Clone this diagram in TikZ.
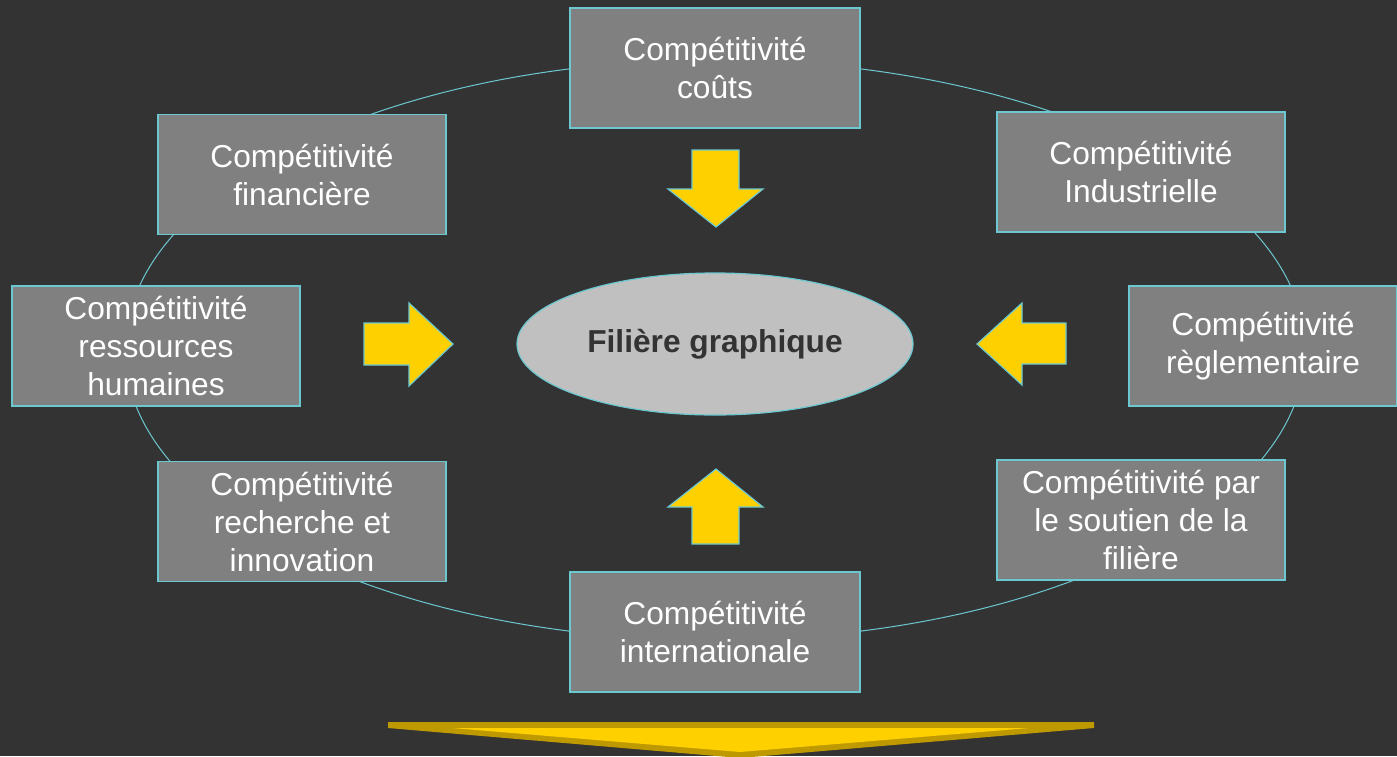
\documentclass[tikz,border=0pt]{standalone}
\usepackage{fontspec}
\setmainfont{Liberation Sans}
\usetikzlibrary{shapes.geometric}
\definecolor{bgdark}{RGB}{51,51,51}
\definecolor{boxgrey}{RGB}{128,128,128}
\definecolor{edgecyan}{RGB}{108,200,208}
\definecolor{hubgrey}{RGB}{192,192,192}
\definecolor{arrowgold}{RGB}{255,208,0}
\definecolor{arrowdark}{RGB}{191,153,0}

\begin{document}
\begin{tikzpicture}[x=0.5pt,y=-0.5pt,
  every node/.style={font=\fontsize{15.85}{19}\selectfont},
  compbox/.style={draw=edgecyan,line width=0.75pt,fill=boxgrey,text=white,align=center,
    inner sep=0pt,minimum width=144pt,minimum height=60pt},
  blockarrow/.style={draw=edgecyan,line width=0.6pt,fill=arrowgold}]
\useasboundingbox (0,0) rectangle (1397,756);
\fill[bgdark] (0,0) rectangle (1397,756);
% ring behind the boxes
\draw[edgecyan,line width=0.5pt] (715,350) ellipse [x radius=590,y radius=290];
\node[compbox,minimum width=145pt] (couts) at (715,68) {Compétitivité\\coûts};
\node[compbox] (fin) at (302,174.5) {Compétitivité\\financière};
\node[compbox] (ind) at (1141,172) {Compétitivité\\Industrielle};
\node[compbox] (rh) at (156,346) {Compétitivité\\ressources\\humaines};
\node[compbox,minimum width=134pt] (regl) at (1263,346) {Compétitivité\\règlementaire};
\node[compbox] (rech) at (302,521.5) {Compétitivité\\recherche et\\innovation};
\node[compbox] (soutien) at (1141,520) {Compétitivité par\\le soutien de la\\filière};
\node[compbox,minimum width=145pt] (inter) at (715,632) {Compétitivité\\internationale};
\node[ellipse,draw=edgecyan,line width=0.6pt,fill=hubgrey,text=bgdark,inner sep=0pt,
  minimum width=198pt,minimum height=71pt,font=\fontsize{15.85}{19}\selectfont\bfseries] (hub) at (715,344) {Filière graphique};
% block arrows
\draw[blockarrow] (692,150) -- (739,150) -- (739,189) -- (763,189) -- (716,227) -- (668,189) -- (692,189) -- cycle;
\draw[blockarrow] (692,544) -- (739,544) -- (739,507) -- (763,507) -- (716,469) -- (668,507) -- (692,507) -- cycle;
\draw[blockarrow] (364,323) -- (409,323) -- (409,303) -- (453,344) -- (409,386) -- (409,365) -- (364,365) -- cycle;
\draw[blockarrow] (1066,323) -- (1022,323) -- (1022,303) -- (977,344) -- (1022,385) -- (1022,364) -- (1066,364) -- cycle;
% wide arrow at the bottom
\fill[arrowdark] (388,722) -- (1094,722) -- (1094,728) -- (740,758) -- (388,728) -- cycle;
\fill[arrowgold] (452,728) -- (1029,728) -- (740,752) -- cycle;
\end{tikzpicture}
\end{document}
